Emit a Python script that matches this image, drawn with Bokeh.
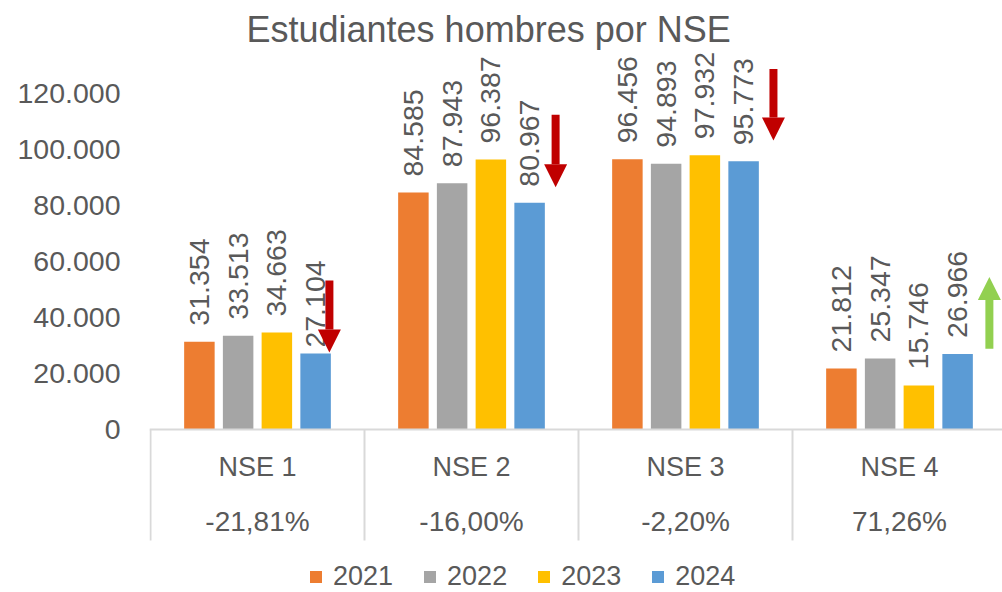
import numpy as np
from bokeh.plotting import figure
from bokeh.models import (FixedTicker, CustomJSTickFormatter, Range1d, Arrow, NormalHead,
                          Legend, LegendItem, Span)
from bokeh.embed import file_html
from bokeh.resources import INLINE
from bokeh.core.properties import value

# ---------------- data ----------------
categories = ["NSE 1", "NSE 2", "NSE 3", "NSE 4"]
years = ["2021", "2022", "2023", "2024"]
v2021 = [31354, 84585, 96456, 21812]
v2022 = [33513, 87943, 94893, 25347]
v2023 = [34663, 96387, 97932, 15746]
v2024 = [27104, 80967, 95773, 26966]
y_ticks = [0, 20000, 40000, 60000, 80000, 100000, 120000]

# change 2024 vs 2023 (shown under each category)
pct = [(b - a) / a * 100 for a, b in zip(v2023, v2024)]
pct_labels = [f"{x:.2f}%".replace(".", ",") for x in pct]

# decorative trend arrows (value-axis tail / tip, offset within category)
arrow_tail = [53200, 112400, 128700, 28800]
arrow_tip = [27500, 86500, 103200, 54400]
arrow_dx = [0.336, 0.393, 0.411, 0.42]

# ---------------- style ----------------
colors = ["#ED7D31", "#A5A5A5", "#FFC000", "#5B9BD5"]
TXT = "#595959"
GRID = "#D9D9D9"
FONT = "Liberation Sans"
W, H = 1002, 592
LEFT = 149                 # frame left (figure px)
CAT_PX = 214.0             # px per category
PX = 357.0                 # value units per pixel
FRAME_TOP = 49             # frame top (figure px)
AXIS_Y = 429               # baseline position (figure px)

x_start = -0.5 - 1.0 / CAT_PX
x_end = x_start + (W - LEFT) / CAT_PX
y_end = (AXIS_Y - FRAME_TOP) * PX
y_start = -(H - AXIS_Y) * PX

p = figure(width=W, height=H, output_backend="svg", toolbar_location=None,
           x_range=Range1d(x_start, x_end), y_range=Range1d(y_start, y_end),
           x_axis_location=None, min_border_left=LEFT, min_border_right=0,
           min_border_top=FRAME_TOP, min_border_bottom=0)
p.outline_line_color = None
p.xgrid.visible = False
p.ygrid.visible = False
p.background_fill_color = "white"
p.border_fill_color = "white"

# title
p.title.text = "Estudiantes hombres por NSE"
p.title.text_font = FONT
p.title.text_font_size = "36px"
p.title.text_font_style = "normal"
p.title.text_color = TXT
p.title.align = "left"
p.title.offset = 97
p.title.standoff = 0

# y axis
ax = p.yaxis[0]
ax.ticker = FixedTicker(ticks=y_ticks)
ax.formatter = CustomJSTickFormatter(
    code="return tick.toFixed(0).replace(/\\B(?=(\\d{3})+(?!\\d))/g, '.');")
ax.axis_line_color = None
ax.major_tick_line_color = None
ax.minor_tick_line_color = None
ax.major_tick_out = 0
ax.major_tick_in = 0
ax.major_label_standoff = 29
ax.major_label_text_font = FONT
ax.major_label_text_font_size = "28.5px"
ax.major_label_text_color = TXT

# bars
series = [v2021, v2022, v2023, v2024]
xs = np.arange(len(categories))
step, bw = 0.181, 0.1425
renderers = []
for i, vals in enumerate(series):
    bx = xs + (i - 1.5) * step
    r = p.vbar(x=bx, top=vals, width=bw, fill_color=colors[i], line_color=None)
    renderers.append(r)
    offs = []
    for j in range(len(vals)):
        offs.append(-6 if (i == 3 and j == 0) else -16)
    p.text(x=bx, y=vals, text=[f"{v:,}".replace(",", ".") for v in vals],
           angle=np.pi / 2, text_align="left", text_baseline="middle",
           y_offset=offs, text_font=value(FONT), text_font_size="28.5px",
           text_color=TXT)

# category axis (line, separators, two label rows)
p.add_layout(Span(location=0, dimension="width", line_color=GRID, line_width=2))
sep_x = [k - 0.5 for k in range(len(categories) + 1)]
p.segment(x0=sep_x, y0=[0] * len(sep_x), x1=sep_x, y1=[-111 * PX] * len(sep_x),
          line_color=GRID, line_width=2)
p.text(x=xs, y=[0] * 4, text=categories, y_offset=37, text_align="center",
       text_baseline="middle", text_font=value(FONT), text_font_size="27px",
       text_color=TXT)
p.text(x=xs, y=[0] * 4, text=pct_labels, y_offset=92, text_align="center",
       text_baseline="middle", text_font=value(FONT), text_font_size="28px",
       text_color=TXT)

# arrows
for j in range(len(categories)):
    c = "#92D050" if pct[j] > 0 else "#C00000"
    p.add_layout(Arrow(end=NormalHead(size=23, fill_color=c, line_color=c, line_width=0),
                       x_start=xs[j] + arrow_dx[j], y_start=arrow_tail[j],
                       x_end=xs[j] + arrow_dx[j], y_end=arrow_tip[j],
                       line_color=c, line_width=8))

# legend
legend = Legend(items=[LegendItem(label=years[i], renderers=[renderers[i]]) for i in range(4)],
                orientation="horizontal", location=(159, 0),
                glyph_width=15, glyph_height=15, label_standoff=10, spacing=29,
                padding=0, margin=0, border_line_color=None, background_fill_alpha=0,
                label_text_font=FONT, label_text_font_size="27px", label_text_color=TXT)
p.add_layout(legend)

open("out.html", "w").write(file_html(p, INLINE))
